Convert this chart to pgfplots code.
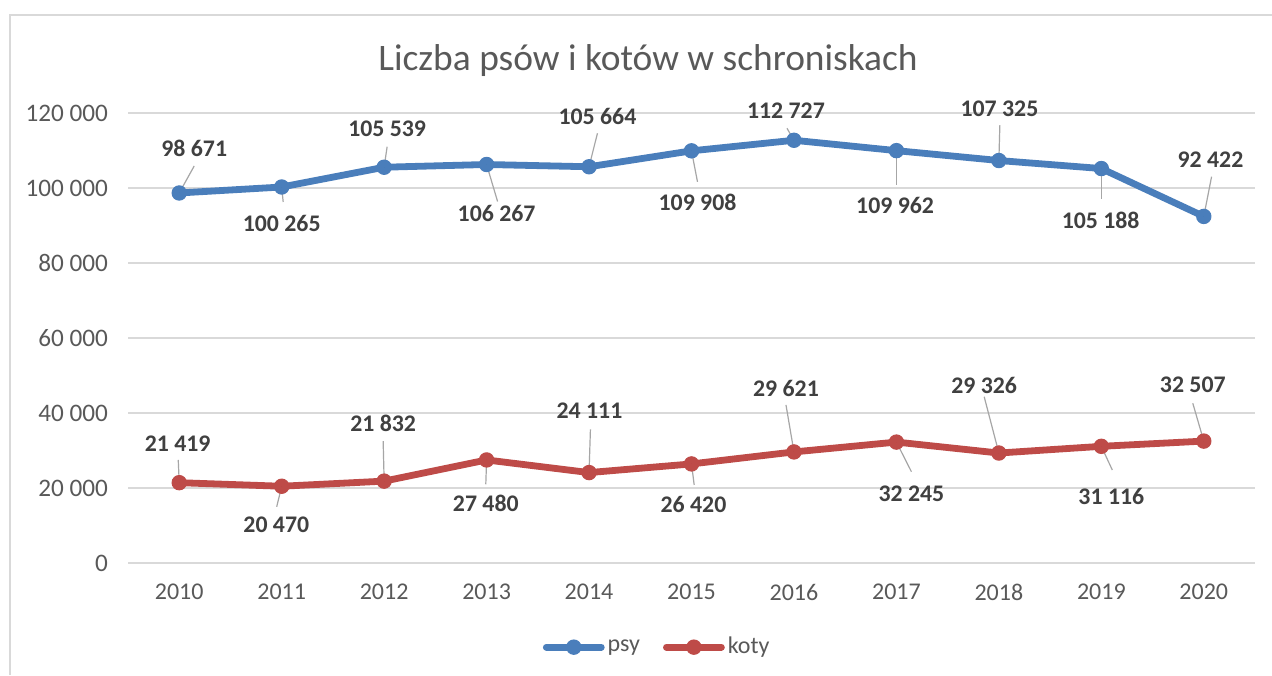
\documentclass[border=0pt]{standalone}
\usepackage{pgfplots}
\usepackage{pgfplotstable}
\pgfplotsset{compat=1.18}
\usepackage{fontspec}
\setmainfont{Carlito}

\definecolor{psy}{HTML}{4A7EBB}
\definecolor{koty}{HTML}{BE4B48}
\definecolor{lead}{HTML}{A6A6A6}
\definecolor{lab}{HTML}{404040}
\definecolor{tick}{HTML}{595959}
\definecolor{gridgray}{HTML}{D9D9D9}

% x, y, label offset (dx,dy) and leader end (lx,ly), offsets in px
\pgfplotstableread{
x    y      dx    dy     lx    ly
2010 98671  15    45     15    27
2011 100265 0     -36    1.5   -15
2012 105539 3     38     3     20.5
2013 106267 10    -48.5  11    -37
2014 105664 8.4   50     8.4   33.5
2015 109908 6     -52    6     -31
2016 112727 -8    30     -7    12
2017 109962 -1.3  -54.4  0     -34.4
2018 107325 0.6   52.2   1     35.5
2019 105188 -0.7  -51.5  0     -30.8
2020 92422  6.7   57     7.8   39.7
}\psydata

\pgfplotstableread{
x    y      dx    dy     lx    ly
2010 21419  -1.6  39.4   -1    22.7
2011 20470  -5.4  -38.8  -5    -20.5
2012 21832  -1    57.8   -1    40
2013 27480  -0.8  -43.4  -0.8  -24.3
2014 24111  0.4   61.9   1.4   43.3
2015 26420  2     -41    2.7   -21
2016 29621  -8    63.6   -8    47
2017 32245  15    -51.2  15    -29.6
2018 29326  -14.7 68     -14.7 56.3
2019 31116  10    -50.4  11    -23.7
2020 32507  -11   56     -11   37.8
}\kotydata

\pgfplotsset{
  serie/.style={#1, line width=3.4pt, line join=round, line cap=round,
    mark=*, mark size=3.6pt, mark options={solid, line width=0.5pt, fill=#1}},
  % leader lines: px offsets turned into data units (1127 px = 11 years, 450 px = 120000)
  leader/.style={forget plot, lead, line width=0.6pt, -,
    quiver={u=\thisrow{lx}*0.0097604, v=\thisrow{ly}*266.667}},
  labels/.style={
    forget plot, scatter, only marks, mark=*, mark size=0pt,
    mark options={draw=none, fill=none},
    point meta=rawy,
    visualization depends on={\thisrow{dx}\as\dx},
    visualization depends on={\thisrow{dy}\as\dy},
    scatter/@pre marker code/.code={},
    scatter/@post marker code/.code={},
    nodes near coords={\pgfmathprintnumber[fixed,precision=0,1000 sep={\ }]{\pgfplotspointmeta}},
    nodes near coords align={center},
    every node near coord/.append style={anchor=center, inner sep=0pt,
      xshift={0.5pt*(\dx)}, yshift={0.5pt*(\dy)},
      font=\bfseries\fontsize{11.9}{14}\selectfont, text=lab},
  },
}

\begin{document}
\begin{tikzpicture}
\path[use as bounding box, fill=white] (0pt,0pt) rectangle (636pt,337.5pt);
\draw[gridgray, line width=0.8pt] (5pt,0pt) -- (5pt,330pt) -- (636pt,330pt);
\node[font=\fontsize{18.7}{22}\selectfont, text=tick] at (324pt,307pt)
  {Liczba psów i kotów w schroniskach};

\begin{axis}[
  at={(64pt,56pt)}, anchor=south west,
  scale only axis, width=563.5pt, height=225pt,
  xmin=2009.5, xmax=2020.5, ymin=0, ymax=120000,
  xtick={2010,2011,...,2020},
  ytick={0,20000,...,120000},
  scaled x ticks=false, scaled y ticks=false,
  /pgf/number format/fixed, /pgf/number format/precision=0,
  /pgf/number format/assume math mode=true,
  /pgf/number format/1000 sep={\ },
  xticklabel={\pgfmathprintnumber[fixed,precision=0,1000 sep={}]{\tick}},
  yticklabel={\pgfmathprintnumber[fixed,precision=0,1000 sep={\ }]{\tick}},
  tick label style={font=\fontsize{12}{14}\selectfont, text=tick},
  x tick label style={yshift=-7pt},
  y tick label style={xshift=-6.5pt, font=\fontsize{12.6}{14}\selectfont},
  major tick length=0pt,
  axis line style={draw=none},
  xmajorgrids=false, ymajorgrids=true,
  grid style={draw=gridgray, line width=0.6pt},
  clip=false,
  legend style={at={(0.470,-0.187)}, anchor=center, draw=none, fill=none,
    font=\fontsize{12}{14}\selectfont, text=tick,
    nodes={inner xsep=1.5pt},
    /tikz/every even column/.append style={column sep=10pt}},
  legend columns=2,
  legend image code/.code={%
    \draw[mark repeat=2, mark phase=2] plot coordinates {(0pt,0pt) (13.75pt,0pt) (27.5pt,0pt)};},
]
\addplot[serie=psy] table[x=x, y=y] {\psydata};
\addlegendentry{psy}
\addplot[serie=koty] table[x=x, y=y] {\kotydata};
\addlegendentry{koty}

\addplot[leader] table[x=x, y=y] {\psydata};
\addplot[leader] table[x=x, y=y] {\kotydata};
\addplot[labels] table[x=x, y=y] {\psydata};
\addplot[labels] table[x=x, y=y] {\kotydata};
\end{axis}
\end{tikzpicture}
\end{document}
